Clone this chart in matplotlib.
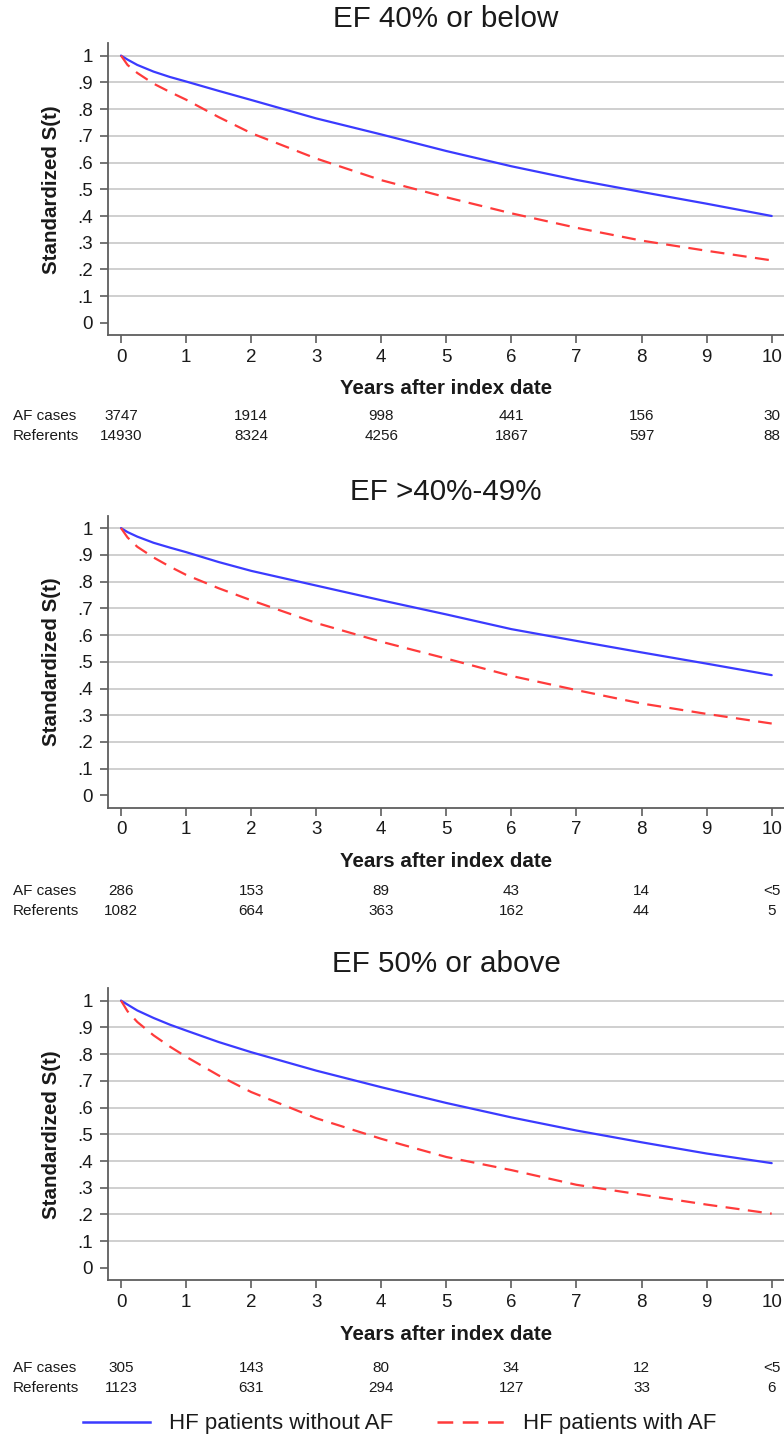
import matplotlib
matplotlib.use('Agg')
import matplotlib.pyplot as plt
from matplotlib.lines import Line2D
import matplotlib.transforms as mtransforms

plt.rcParams['font.family'] = ['Liberation Sans', 'DejaVu Sans']

# ---------------- data ----------------
years = [0, 0.1, 0.25, 0.5, 0.75, 1, 1.5, 2, 3, 4, 5, 6, 7, 8, 9, 10]

titles = ["EF 40% or below", "EF >40%-49%", "EF 50% or above"]

no_af_1 = [1, 0.985, 0.965, 0.940, 0.920, 0.903, 0.868, 0.834, 0.765, 0.705, 0.643, 0.586, 0.535, 0.490, 0.446, 0.400]
with_af_1 = [1, 0.965, 0.935, 0.895, 0.864, 0.835, 0.770, 0.710, 0.615, 0.534, 0.470, 0.410, 0.356, 0.308, 0.270, 0.234]

no_af_2 = [1, 0.985, 0.968, 0.945, 0.927, 0.910, 0.873, 0.840, 0.785, 0.730, 0.677, 0.622, 0.578, 0.535, 0.493, 0.450]
with_af_2 = [1, 0.965, 0.930, 0.890, 0.856, 0.825, 0.775, 0.730, 0.645, 0.575, 0.512, 0.447, 0.394, 0.344, 0.305, 0.269]

no_af_3 = [1, 0.985, 0.963, 0.935, 0.910, 0.888, 0.845, 0.807, 0.738, 0.676, 0.617, 0.563, 0.514, 0.470, 0.428, 0.392]
with_af_3 = [1, 0.960, 0.920, 0.870, 0.828, 0.790, 0.720, 0.658, 0.560, 0.483, 0.415, 0.366, 0.311, 0.274, 0.237, 0.203]

risk_years = [0, 2, 4, 6, 8, 10]
af_cases_1 = ["3747", "1914", "998", "441", "156", "30"]
referents_1 = ["14930", "8324", "4256", "1867", "597", "88"]
af_cases_2 = ["286", "153", "89", "43", "14", "<5"]
referents_2 = ["1082", "664", "363", "162", "44", "5"]
af_cases_3 = ["305", "143", "80", "34", "12", "<5"]
referents_3 = ["1123", "631", "294", "127", "33", "6"]

xticks = list(range(0, 11))
yticks = [0, 0.1, 0.2, 0.3, 0.4, 0.5, 0.6, 0.7, 0.8, 0.9, 1]
ytick_labels = ["0", ".1", ".2", ".3", ".4", ".5", ".6", ".7", ".8", ".9", "1"]

legend_labels = ["HF patients without AF", "HF patients with AF"]

# ---------------- layout ----------------
W, H = 784, 1438
fig = plt.figure(figsize=(W / 100, H / 100), dpi=100)
fig.patch.set_facecolor('white')

def fy(y):
    return 1 - y / H

BLUE = '#3b3bff'
RED = '#ff3b3b'
GRID = '#cfcfcf'
AXC = '#5e5e5e'
TXT = '#1a1a1a'
DASH = (0, (6.3, 3.8))

panels = [
    (titles[0], no_af_1, with_af_1, af_cases_1, referents_1),
    (titles[1], no_af_2, with_af_2, af_cases_2, referents_2),
    (titles[2], no_af_3, with_af_3, af_cases_3, referents_3),
]
row_y = [416, 891, 1368]

for i, (title, no_af, with_af, afc, refs) in enumerate(panels):
    B = 335 + 472.5 * i
    ax = fig.add_axes([108 / W, fy(B), 676 / W, 292 / H])
    ax.set_xlim(-0.2, 10.189)
    ax.set_ylim(-0.045, 1.047)
    for yv in yticks[1:]:
        ax.axhline(yv, color=GRID, lw=1.4, zorder=1)
    ax.plot(years, no_af, color=BLUE, lw=1.6, zorder=3, solid_joinstyle='round',
            solid_capstyle='round')
    ax.plot(years, with_af, color=RED, lw=1.6, ls=DASH, zorder=3, dash_joinstyle='round')
    for s in ['top', 'right']:
        ax.spines[s].set_visible(False)
    for s in ['left', 'bottom']:
        ax.spines[s].set_color(AXC)
        ax.spines[s].set_linewidth(1.3)
    ax.set_xticks(xticks)
    ax.set_xticklabels([str(x) for x in xticks])
    ax.set_yticks(yticks)
    ax.set_yticklabels(ytick_labels)
    ax.tick_params(axis='both', direction='out', length=6, width=1.2, color=AXC,
                   labelsize=13.5, labelcolor=TXT)
    ax.tick_params(axis='x', pad=4)
    ax.tick_params(axis='y', pad=5)

    fig.text(446 / W, fy(B - 316), title, ha='center', va='center', fontsize=21.3, color=TXT)
    fig.text(52 / W, fy(B - 145.6), "Standardized S(t)", rotation=90, ha='center', va='center',
             fontsize=14.8, fontweight='bold', color=TXT)
    fig.text(446 / W, fy(B + 54), "Years after index date", ha='center', va='center',
             fontsize=14.8, fontweight='bold', color=TXT)

    trans = mtransforms.blended_transform_factory(ax.transData, fig.transFigure)
    ry = row_y[i]
    fig.text(13 / W, fy(ry), "AF cases", ha='left', va='center', fontsize=11, color=TXT)
    fig.text(13 / W, fy(ry + 20), "Referents", ha='left', va='center', fontsize=11, color=TXT)
    for xv, a, r in zip(risk_years, afc, refs):
        fig.text(xv, fy(ry), a, transform=trans, ha='center', va='center', fontsize=11, color=TXT)
        fig.text(xv, fy(ry + 20), r, transform=trans, ha='center', va='center', fontsize=11, color=TXT)

handles = [Line2D([], [], color=BLUE, lw=1.8),
           Line2D([], [], color=RED, lw=1.8, ls=DASH)]
fig.legend(handles, legend_labels, loc='center left', bbox_to_anchor=(83 / W, fy(1424)),
           ncol=2, frameon=False, fontsize=16, handlelength=3.0, handletextpad=0.85,
           columnspacing=2.0, borderpad=0, borderaxespad=0, labelcolor=TXT)

fig.savefig('out.png', dpi=100, facecolor='white')
